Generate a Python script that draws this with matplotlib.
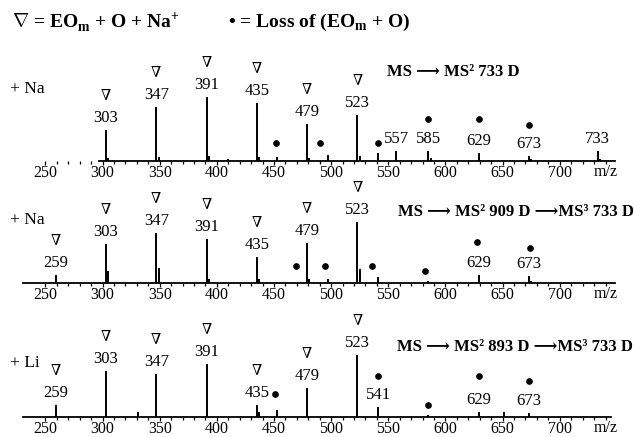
import numpy as np
import matplotlib.pyplot as plt

plt.rcParams['font.family'] = ['Liberation Serif', 'DejaVu Serif', 'DejaVu Sans']
plt.rcParams['mathtext.fontset'] = 'custom'
plt.rcParams['mathtext.rm'] = 'Liberation Serif'
plt.rcParams['mathtext.bf'] = 'Liberation Serif:bold'

# ---- data (m/z, relative intensity) ----
na1_mz = [303, 305, 347, 349, 391, 393, 410, 435, 437, 453, 479, 481, 497,
          523, 525, 541, 557, 585, 587, 629, 673, 675, 733, 735]
na1_int = [31, 3, 54, 4, 64, 5, 2, 58, 4, 4, 37, 3, 6,
           46, 5, 8, 10, 10, 3, 8, 5, 2, 10, 2]
na1_tri = [303, 347, 391, 435, 479, 523]
na1_lab = [557, 585, 629, 673, 733]
na1_dot_mz = [452, 490, 541, 585, 629, 673]
na1_dot_y = [18, 18, 18, 42, 42, 36]

na2_mz = [259, 303, 305, 347, 349, 391, 393, 435, 437, 453, 479, 481, 497,
          523, 525, 541, 585, 629, 673, 675]
na2_int = [8, 39, 12, 50, 15, 44, 4, 26, 4, 1, 40, 4, 4,
           61, 14, 6, 2, 8, 7, 2]
na2_tri = [259, 303, 347, 391, 435, 479, 523]
na2_lab = [629, 673]
na2_dot_mz = [469, 495, 536, 582, 628, 674]
na2_dot_y = [17, 17, 17, 12, 41, 35]

li_mz = [259, 303, 331, 347, 391, 435, 437, 453, 479, 523, 541, 585, 629, 651, 673]
li_int = [12, 46, 5, 43, 53, 12, 5, 7, 29, 62, 10, 2, 5, 5, 4]
li_tri = [259, 303, 347, 391, 435, 479, 523]
li_lab = [541, 629, 673]
li_dot_mz = [451, 541, 585, 629, 673]
li_dot_y = [23, 41, 12, 41, 36]

W, H = 635, 437
fig = plt.figure(figsize=(W / 100, H / 100), dpi=100)


def panel(base, top, xspan, mz, inten, tri, lab, dmz, dy):
    ax = fig.add_axes([0, (H - base) / H, 1, (base - top) / H])
    ax.set_xlim(210.3, 765.8)
    ax.set_ylim(0, base - top)
    ax.patch.set_visible(False)
    for s in ['top', 'right', 'left']:
        ax.spines[s].set_visible(False)
    ax.spines['bottom'].set_bounds(*xspan)
    ax.spines['bottom'].set_linewidth(1.3)
    ax.set_yticks([])
    ax.set_xticks(np.arange(250, 701, 50))
    ax.set_xticks(np.arange(250, 741, 10), minor=True)
    ax.tick_params(which='both', direction='out', width=0.9, labelsize=11.5, pad=0)
    ax.tick_params(which='major', length=3)
    ax.tick_params(which='minor', length=2.5)
    ax.text(740, -11, 'm/z', ha='center', va='center', fontsize=11.5)

    ax.vlines(mz, 0, inten, color='black', lw=1.4)
    ax.plot(dmz, dy, 'o', color='black', ms=3.8, clip_on=False)

    h = dict(zip(mz, inten))
    for m in tri:
        ax.annotate(str(m), (m, h[m]), xytext=(0, 12), textcoords='offset pixels',
                    ha='center', va='center', fontsize=12)
        ax.annotate('\u2207', (m, h[m]), xytext=(0, 34), textcoords='offset pixels',
                    ha='center', va='center', fontsize=10.5)
    for m in lab:
        ax.annotate(str(m), (m, h[m]), xytext=(0, 12), textcoords='offset pixels',
                    ha='center', va='center', fontsize=12)
    return ax


panel(161, 60, (297, 748), na1_mz, na1_int, na1_tri, na1_lab, na1_dot_mz, na1_dot_y)
panel(283, 185, (230, 748), na2_mz, na2_int, na2_tri, na2_lab, na2_dot_mz, na2_dot_y)
panel(417, 305, (230, 745), li_mz, li_int, li_tri, li_lab, li_dot_mz, li_dot_y)

# header
fig.text(12 / W, 1 - 22 / H, r'$\nabla$ = EO$_\mathbf{m}$ + O + Na$^\mathbf{+}$',
         fontsize=14, fontweight='bold', va='center')
fig.text(228 / W, 1 - 22 / H, '\u2022 = Loss of (EO$_\\mathbf{m}$ + O)',
         fontsize=14, fontweight='bold', va='center')

# side labels
fig.text(10 / W, 1 - 89 / H, '+ Na', fontsize=12.5, va='center')
fig.text(10 / W, 1 - 220 / H, '+ Na', fontsize=12.5, va='center')
fig.text(10 / W, 1 - 363 / H, '+ Li', fontsize=12.5, va='center')

# experiment notes
fig.text(387 / W, 1 - 72 / H, 'MS \u27f6 MS\u00b2 733 D',
         fontsize=12, fontweight='bold', va='center')
fig.text(398 / W, 1 - 212 / H, 'MS \u27f6 MS\u00b2 909 D \u27f6MS\u00b3 733 D',
         fontsize=12, fontweight='bold', va='center')
fig.text(397 / W, 1 - 347 / H, 'MS \u27f6 MS\u00b2 893 D \u27f6MS\u00b3 733 D',
         fontsize=12, fontweight='bold', va='center')

fig.savefig('out.png', dpi=100)
